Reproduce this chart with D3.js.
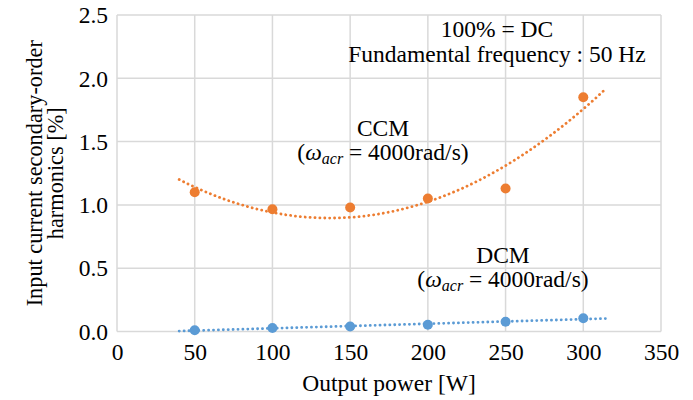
<!DOCTYPE html>
<html><head><meta charset="utf-8">
<script src="https://cdn.jsdelivr.net/npm/d3@7"></script>
<style>body{margin:0;background:#fff}svg{display:block}</style>
</head><body><svg id="c" width="693" height="400" font-family="Liberation Serif" font-size="23.5"></svg>
<script>
const power = [50, 100, 150, 200, 250, 300];
const ccm = [1.10, 0.965, 0.98, 1.05, 1.13, 1.85];
const dcm = [0.01, 0.028, 0.04, 0.054, 0.077, 0.104];
const xTicks = [0, 50, 100, 150, 200, 250, 300, 350];
const yTicks = [0, 0.5, 1.0, 1.5, 2.0, 2.5];
const trendRange = [40, 315];

const svg = d3.select("#c");
const L = 117, R = 661, T = 15, B = 331.5;
const x = d3.scaleLinear().domain([0, 350]).range([L, R]);
const y = d3.scaleLinear().domain([0, 2.5]).range([B, T]);
const grid = "#d9d9d9";

// grid
svg.append("g").selectAll("line").data(xTicks).join("line")
  .attr("x1", d => x(d)).attr("x2", d => x(d)).attr("y1", T).attr("y2", B)
  .attr("stroke", grid).attr("stroke-width", 1.5);
svg.append("g").selectAll("line").data(yTicks).join("line")
  .attr("y1", d => y(d)).attr("y2", d => y(d)).attr("x1", L).attr("x2", R)
  .attr("stroke", grid).attr("stroke-width", 1.5);

// axes labels
const xa = svg.append("g").attr("transform", `translate(0,${B})`)
  .call(d3.axisBottom(x).tickValues(xTicks).tickSize(0).tickPadding(0).tickFormat(d3.format("d")));
xa.select(".domain").remove();
xa.attr("font-family", "Liberation Serif").attr("font-size", 23.5);
xa.selectAll("text").attr("dy", null).attr("y", 28.5).attr("fill", "#000");
const ya = svg.append("g").attr("transform", `translate(${L},0)`)
  .call(d3.axisLeft(y).tickValues(yTicks).tickSize(0).tickPadding(9).tickFormat(d3.format(".1f")));
ya.select(".domain").remove();
ya.attr("font-family", "Liberation Serif").attr("font-size", 23.5);
ya.selectAll("text").attr("dy", "0.33em").attr("fill", "#000");

// fits
function polyfit(xs, ys, deg) {
  const n = deg + 1;
  const A = Array.from({length: n}, () => new Array(n + 1).fill(0));
  xs.forEach((xv, k) => {
    for (let i = 0; i < n; i++) {
      for (let j = 0; j < n; j++) A[i][j] += Math.pow(xv, i + j);
      A[i][n] += ys[k] * Math.pow(xv, i);
    }
  });
  for (let i = 0; i < n; i++) {
    let p = i;
    for (let r = i + 1; r < n; r++) if (Math.abs(A[r][i]) > Math.abs(A[p][i])) p = r;
    [A[i], A[p]] = [A[p], A[i]];
    for (let r = 0; r < n; r++) if (r !== i) {
      const f = A[r][i] / A[i][i];
      for (let c = i; c <= n; c++) A[r][c] -= f * A[i][c];
    }
  }
  const coef = A.map((row, i) => row[n] / row[i]);
  return xv => coef.reduce((s, c, i) => s + c * Math.pow(xv, i), 0);
}
const fC = polyfit(power, ccm, 2);
const fD = polyfit(power, dcm, 1);
const xs = d3.range(trendRange[0], trendRange[1] + 0.01, 2.5);
const line = f => d3.line().x(d => x(d)).y(d => y(f(d)))(xs);

const series = [
  {vals: ccm, f: fC, color: "#ED7D31"},
  {vals: dcm, f: fD, color: "#5B9BD5"}
];
series.forEach(s => {
  svg.append("path").attr("d", line(s.f)).attr("fill", "none")
    .attr("stroke", s.color).attr("stroke-width", 2.8)
    .attr("stroke-linecap", "round").attr("stroke-dasharray", "0.1 4.8");
  svg.append("g").selectAll("circle").data(power).join("circle")
    .attr("cx", d => x(d)).attr("cy", (d, i) => y(s.vals[i])).attr("r", 5)
    .attr("fill", s.color);
});

function txt(xp, yp, s) {
  return svg.append("text").attr("x", xp).attr("y", yp).attr("text-anchor", "middle")
    .attr("fill", "#000").text(s);
}
// titles
txt(x(175), 391, "Output power [W]");
const yt = svg.append("text").attr("transform", `translate(0,${(T + B) / 2}) rotate(-90)`)
  .attr("text-anchor", "middle").attr("font-size", 22.3);
yt.append("tspan").attr("x", 0).attr("y", 42).text("Input current secondary-order");
yt.append("tspan").attr("x", 0).attr("y", 63).text("harmonics [%]");

// annotations
txt(497, 37, "100% = DC");
txt(497, 62, "Fundamental frequency : 50 Hz");
function omega(cx, y0, title) {
  txt(cx, y0, title);
  const t = txt(cx, y0 + 24, null);
  t.append("tspan").text("(");
  t.append("tspan").attr("font-style", "italic").text("ω");
  t.append("tspan").attr("font-style", "italic").attr("font-size", 16).attr("dy", 4).text("acr");
  t.append("tspan").attr("dy", -4).text(" = 4000rad/s)");
}
omega(383, 136, "CCM");
omega(503, 263, "DCM");
</script></body></html>
